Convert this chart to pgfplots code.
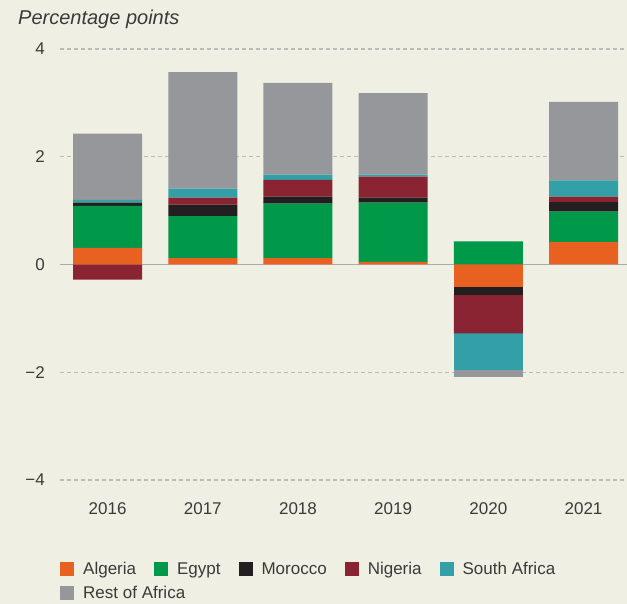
\documentclass[border=0pt]{standalone}
\usepackage{pgfplots}
\pgfplotsset{compat=1.18}
\usepackage{fontspec}
\setmainfont{Liberation Sans}
\definecolor{bg}{HTML}{EFF0E3}
\definecolor{txt}{HTML}{3A3A3A}
\definecolor{cAlg}{HTML}{E86121}
\definecolor{cEgy}{HTML}{009849}
\definecolor{cMor}{HTML}{231F20}
\definecolor{cNig}{HTML}{8A2432}
\definecolor{cSA}{HTML}{339FA6}
\definecolor{cRest}{HTML}{96979B}
\definecolor{gridc}{HTML}{BBBBBB}
\definecolor{zeroc}{HTML}{ABABAB}
\makeatletter
\newcommand\resetstackedplots{\pgfplots@stacked@isfirstplottrue}
\makeatother
\pgfplotsset{sq/.style={legend image code/.code={\fill[##1] (0pt,-7pt) rectangle (14pt,7pt);}}}
\begin{document}
\begin{tikzpicture}
\fill[bg] (0pt,0pt) rectangle (627pt,604pt);
\useasboundingbox (0pt,0pt) rectangle (627pt,604pt);
\node[anchor=base west, font=\fontsize{20}{24}\selectfont\itshape, text=txt, inner sep=0pt] at (18pt,579pt) {Percentage points};
\begin{axis}[
  at={(60pt,124pt)}, anchor=south west,
  scale only axis, width=567pt, height=431pt,
  xmin=-0.5, xmax=5.457, ymin=-4, ymax=4,
  ybar stacked, bar width=69pt,
  axis line style={draw=none}, major tick length=0pt,
  ytick={-4,-2,0,2,4}, yticklabels={−4,−2,0,2,4},
  xtick={0,1,2,3,4,5}, xticklabels={2016,2017,2018,2019,2020,2021},
  ymajorgrids, grid style={gridc, line width=1.2pt, dash pattern=on 4pt off 3pt},
  tick label style={font=\fontsize{17}{20}\selectfont, text=txt},
  yticklabel style={anchor=east, inner sep=0pt, xshift=-15pt},
  xticklabel style={anchor=north, inner sep=0pt, yshift=-22pt},
  legend style={at={(0,-0.186)}, anchor=north west, draw=none, fill=none,
    inner sep=0pt, font=\fontsize{17}{20}\selectfont, text=txt,
    /tikz/every odd column/.append style={column sep=7pt},
    /tikz/every even column/.append style={column sep=16pt}, row sep=6pt},
  legend cell align=left, legend columns=5,
]
% positive parts
\addplot[fill=cAlg, draw=none, sq] coordinates {(0,0.31) (1,0.12) (2,0.12) (3,0.05) (4,0) (5,0.42)};
\addplot[fill=cEgy, draw=none, sq] coordinates {(0,0.78) (1,0.78) (2,1.01) (3,1.10) (4,0.43) (5,0.56)};
\addplot[fill=cMor, draw=none, sq] coordinates {(0,0.06) (1,0.21) (2,0.13) (3,0.09) (4,0) (5,0.18)};
\addplot[fill=cNig, draw=none, sq] coordinates {(0,0) (1,0.13) (2,0.31) (3,0.39) (4,0) (5,0.10)};
\addplot[fill=cSA, draw=none, sq] coordinates {(0,0.05) (1,0.17) (2,0.10) (3,0.04) (4,0) (5,0.30)};
\addplot[fill=cRest, draw=none, sq] coordinates {(0,1.23) (1,2.16) (2,1.70) (3,1.51) (4,0) (5,1.46)};
\legend{Algeria,Egypt,Morocco,Nigeria,South Africa,\makebox[0pt][l]{Rest of Africa}}
% negative parts
\resetstackedplots
\addplot[forget plot, draw=none, fill=none] coordinates {(0,0) (1,0) (2,0) (3,0) (4,0) (5,0)};
\addplot[forget plot, fill=cAlg, draw=none] coordinates {(0,0) (1,0) (2,0) (3,0) (4,-0.41) (5,0)};
\addplot[forget plot, fill=cMor, draw=none] coordinates {(0,0) (1,0) (2,0) (3,0) (4,-0.15) (5,0)};
\addplot[forget plot, fill=cNig, draw=none] coordinates {(0,-0.28) (1,0) (2,0) (3,0) (4,-0.72) (5,0)};
\addplot[forget plot, fill=cSA, draw=none] coordinates {(0,0) (1,0) (2,0) (3,0) (4,-0.67) (5,0)};
\addplot[forget plot, fill=cRest, draw=none] coordinates {(0,0) (1,0) (2,0) (3,0) (4,-0.14) (5,0)};
\draw[zeroc, line width=1.6pt] (axis cs:-0.5,0) -- (axis cs:5.457,0);
\end{axis}
\end{tikzpicture}
\end{document}
